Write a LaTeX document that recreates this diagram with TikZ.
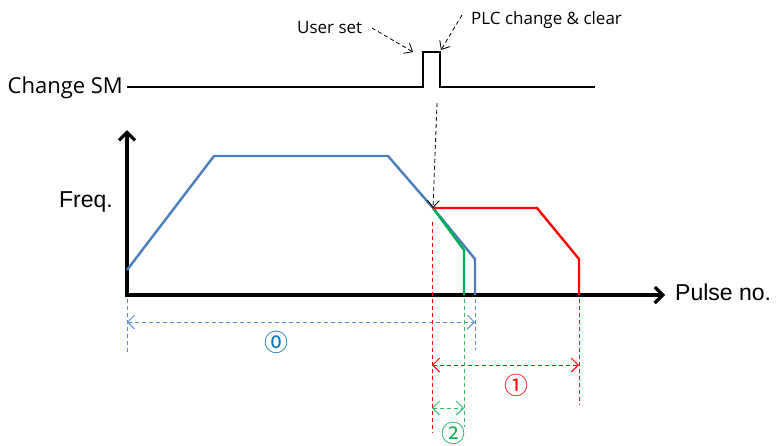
\documentclass[tikz,border=0pt]{standalone}
\usepackage{fontspec}
\setmainfont{Liberation Sans}
\newfontfamily\uifont{Open Sans}
\newfontfamily\circfont{Noto Sans CJK SC}
\usetikzlibrary{arrows.meta}
\definecolor{curveblue}{RGB}{74,126,187}
\definecolor{curvegreen}{RGB}{0,176,80}
\definecolor{dimblue}{RGB}{91,143,208}
\definecolor{numblue}{RGB}{0,112,192}
\definecolor{dimgreen}{RGB}{50,190,110}
\begin{document}
\begin{tikzpicture}[x=1pt, y=-1pt,
    axisline/.style={line width=3.2pt, {Straight Barb[length=8pt,width=16pt]}-{Straight Barb[length=8pt,width=16pt]}},
    signal/.style={line width=2pt},
    curve/.style={line width=2.4pt},
    note/.style={line width=0.8pt, dash pattern=on 4pt off 3pt, -{Straight Barb[length=7pt,width=12pt]}},
    dimline/.style={line width=1pt, dash pattern=on 4pt off 3pt},
    dimarrow/.style={dimline, {Straight Barb[length=7pt,width=14pt]}-{Straight Barb[length=7pt,width=14pt]}},
    uilabel/.style={inner sep=0pt, font=\uifont\fontsize{22}{26}\selectfont},
    notelabel/.style={inner sep=0pt, font=\uifont\fontsize{17}{20}\selectfont},
    axislabel/.style={inner sep=0pt, font=\fontsize{23}{27}\selectfont},
    numlabel/.style={inner sep=0pt, font=\circfont\fontsize{24}{26}\selectfont} ]
    % --- Change SM signal ---
    \node[uilabel, anchor=base east] (sm) at (123,93) {Change SM};
    \coordinate (s0) at (127,87);
    \coordinate (s1) at (423,87);
    \coordinate (s2) at (423,52);
    \coordinate (s3) at (440,52);
    \coordinate (s4) at (440,87);
    \coordinate (s5) at (595,87);
    \draw[signal] (s0) -- (s1) -- (s2) -- (s3) -- (s4) -- (s5);

    \node[notelabel, anchor=base west] (uset) at (297,33) {User set};
    \node[notelabel, anchor=base west] (plc) at (471,24) {PLC change \& clear};
    \coordinate (u0) at (372,28);
    \coordinate (u1) at (413,52);
    \coordinate (p0) at (462,15);
    \coordinate (p1) at (441,50);
    \draw[note] (u0) -- (u1);
    \draw[note] (p0) -- (p1);

    % --- Axes ---
    \coordinate (o) at (127,295);
    \coordinate (ytop) at (127,130);
    \coordinate (xend) at (665,295);
    \draw[axisline] (ytop) -- (o) -- (xend);
    \node[axislabel, anchor=base east] (freq) at (113,207) {Freq.};
    \node[axislabel, anchor=base west] (pulse) at (675,300) {Pulse no.};

    % --- Pulse curves ---
    \coordinate (b0) at (127,270);
    \coordinate (b1) at (214,156);
    \coordinate (b2) at (388,156);
    \coordinate (chg) at (433,208);
    \coordinate (b4) at (475,259);
    \coordinate (b5) at (475,295);
    \coordinate (g1) at (464,250);
    \coordinate (g2) at (464,295);
    \coordinate (r1) at (537,208);
    \coordinate (r2) at (579,259);
    \coordinate (r3) at (579,295);

    \draw[curve, curveblue] (b0) -- (b1) -- (b2) -- (chg) -- (b4) -- (b5);
    \draw[curve, curvegreen] (chg) -- (g1) -- (g2);
    \draw[curve, red] (chg) -- (r1) -- (r2) -- (r3);

    \coordinate (c0) at (437,103);
    \draw[note] (c0) -- (chg);

    % --- Range 0 ---
    \coordinate (z0) at (127,299);
    \coordinate (z1) at (127,355);
    \coordinate (z2) at (475,299);
    \coordinate (z3) at (475,350);
    \coordinate (z4) at (127,322);
    \coordinate (z5) at (475,322);
    \draw[dimline, dimblue] (z0) -- (z1);
    \draw[dimline, dimblue] (z2) -- (z3);
    \draw[dimarrow, dimblue] (z4) -- (z5);
    \node[numlabel, text=numblue] (n0) at (276,342) {⓪};

    % --- Range 1 ---
    \coordinate (e0) at (432,222);
    \coordinate (e1) at (432,433);
    \coordinate (e2) at (579,299);
    \coordinate (e3) at (579,405);
    \coordinate (e4) at (432,365);
    \coordinate (e5) at (579,365);
    \draw[dimline, red] (e0) -- (e1);
    \draw[dimline, red] (e2) -- (e3);
    \draw[dimarrow, red] (e4) -- (e5);
    \node[numlabel, text=red] (n1) at (516,385) {①};

    % --- Range 2 ---
    \coordinate (t0) at (464,299);
    \coordinate (t1) at (464,427);
    \coordinate (t2) at (432,408);
    \coordinate (t3) at (464,408);
    \draw[dimline, dimgreen] (t0) -- (t1);
    \draw[dimarrow, dimgreen] (t2) -- (t3);
    \node[numlabel, text=curvegreen] (n2) at (453,433) {②};

    \useasboundingbox (0,0) rectangle (776,445);
\end{tikzpicture}
\end{document}
